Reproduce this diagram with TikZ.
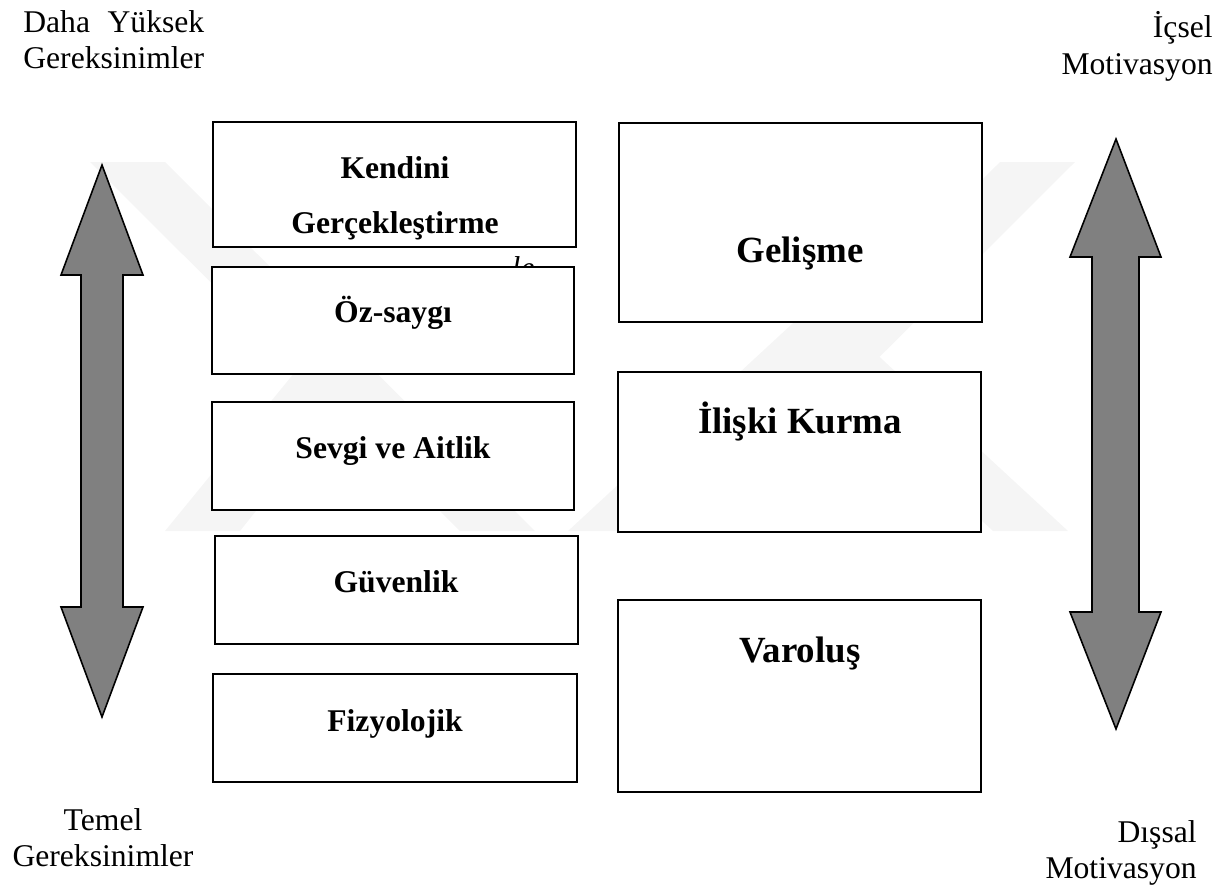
\documentclass[tikz,border=0pt]{standalone}
\usepackage{fontspec}
\setmainfont{Liberation Serif}
\usepackage{tikz}
\usetikzlibrary{positioning}
\newlength{\gerw}
\tikzset{
  needbox/.style = {draw, line width = 0.9pt, fill = white, inner sep = 0},
  lefttxt/.style = {font = \bfseries\fontsize{18}{21}\selectfont, inner sep = 0, anchor = base},
  righttxt/.style = {font = \bfseries\fontsize{21}{25}\selectfont, inner sep = 0, anchor = base},
  sidetxt/.style = {font = \fontsize{18}{21}\selectfont, inner sep = 0},
  bigarrow/.style = {draw, line width = 0.9pt, fill = black!50, line join = miter},
  wmark/.style = {fill = black!4, draw = none}
}

\begin{document}
\begin{tikzpicture}[x = 0.02cm, y = -0.02cm]
    \useasboundingbox (0, 0) rectangle (1228, 889);
    % faint background mark
    \fill[wmark] (90, 162) -- (165, 162) -- (535, 531) -- (460, 531) -- cycle;
    \fill[wmark] (1000, 162) -- (1075, 162) -- (705, 531) -- (630, 531) -- cycle;
    \fill[wmark] (818, 300) -- (1068, 531) -- (993, 531) -- (818, 370) -- (643, 531) -- (568, 531) -- cycle;
    \fill[wmark] (400, 330) -- (240, 531) -- (165, 531) -- (362, 290) -- cycle;
    % side texts
    \node[sidetxt, anchor = base west] (hiA) at (23, 32) {\settowidth{\gerw}{Gereksinimler}\makebox[\gerw][s]{Daha Yüksek}};
    \node[sidetxt, anchor = base west] (hiB) at (23, 69) {Gereksinimler};
    \node[sidetxt, anchor = base east] (icA) at (1213, 37) {İçsel};
    \node[sidetxt, anchor = base east] (icB) at (1213, 74) {Motivasyon};
    \node[sidetxt, anchor = base] (loA) at (103, 830) {Temel};
    \node[sidetxt, anchor = base] (loB) at (103, 866) {Gereksinimler};
    \node[sidetxt, anchor = base east] (disA) at (1197, 842) {Dışsal};
    \node[sidetxt, anchor = base east] (disB) at (1197, 878) {Motivasyon};
    % arrows
    \draw[bigarrow] (102, 165) -- (143, 275) -- (123, 275) -- (123, 607) -- (143, 607) -- (102, 717)
      -- (61, 607) -- (81, 607) -- (81, 275) -- (61, 275) -- cycle;
    \draw[bigarrow] (1116, 139) -- (1161, 257) -- (1139, 257) -- (1139, 612) -- (1161, 612) -- (1116, 729)
      -- (1070, 612) -- (1092, 612) -- (1092, 257) -- (1070, 257) -- cycle;
    % stray text under the box
    \node[sidetxt, font = \itshape\fontsize{18}{21}\selectfont, anchor = base] (stray) at (523, 278) {le};
    % boxes
    \foreach \nm/\cx/\cy/\w/\h in {kendini/394.5/184.5/7.26/2.50, ozsaygi/393/320.5/7.24/2.14,
        sevgi/393/456/7.24/2.16, guvenlik/396.5/590/7.26/2.16, fizyolojik/395/728/7.28/2.16,
        gelisme/800.5/222.5/7.26/3.98, iliski/799.5/452/7.26/3.20, varolus/799.5/696/7.26/3.84}{
      \node[needbox, minimum width = \w cm, minimum height = \h cm] (\nm) at (\cx, \cy) {};
    }
    \node[lefttxt] (kendiniA) at (395, 178) {Kendini};
    \node[lefttxt] (kendiniB) at (395, 233) {Gerçekleştirme};
    \node[lefttxt] (ozsaygiT) at (393, 322) {Öz-saygı};
    \node[lefttxt] (sevgiT) at (393, 458) {Sevgi ve Aitlik};
    \node[lefttxt] (guvenlikT) at (396, 592) {Güvenlik};
    \node[lefttxt] (fizyolojikT) at (395, 731) {Fizyolojik};
    \node[righttxt] (gelismeT) at (800, 262) {Gelişme};
    \node[righttxt] (iliskiT) at (800, 433) {İlişki Kurma};
    \node[righttxt] (varolusT) at (800, 662) {Varoluş};
\end{tikzpicture}
\end{document}
